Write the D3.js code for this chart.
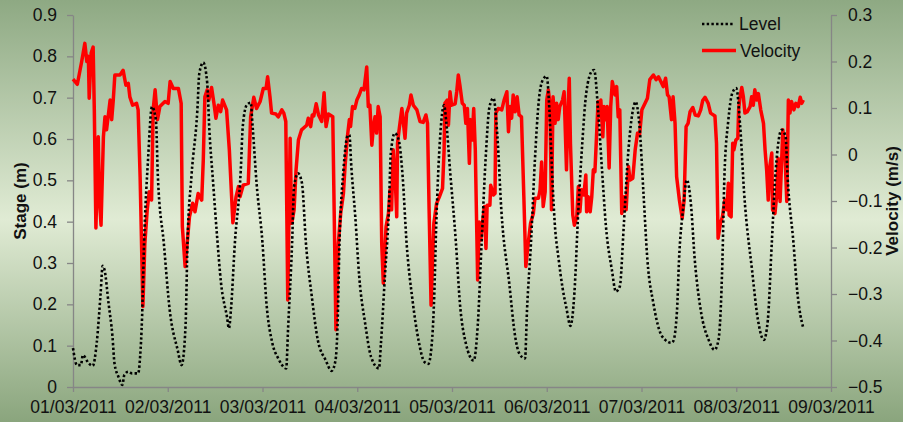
<!DOCTYPE html>
<html>
<head>
<meta charset="utf-8">
<style>
body { margin: 0; background: #fff; }
svg { display: block; font-family: "Liberation Sans", Arial, sans-serif; }
.axis path, .axis line { stroke: #868686; stroke-width: 1.3px; }
.axis text { fill: #111; font-size: 17.5px; }
.level { fill: none; stroke: #000; stroke-width: 2.6px; stroke-dasharray: 2.4, 2.3; }
.velocity { fill: none; stroke: #ff0000; stroke-width: 3.5px; stroke-linejoin: round; }
.title { font-weight: bold; font-size: 17px; fill: #111; }
.legend text { font-size: 17.5px; fill: #111; }
</style>
</head>
<body>
<script src="https://d3js.org/d3.v7.min.js"></script>
<script>

// x tick labels (dd/mm/yyyy)
var dateTicks = ["01/03/2011", "02/03/2011", "03/03/2011", "04/03/2011", "05/03/2011",
                 "06/03/2011", "07/03/2011", "08/03/2011", "09/03/2011"]
var stageTicks = [0, 0.1, 0.2, 0.3, 0.4, 0.5, 0.6, 0.7, 0.8, 0.9]
var velocityTicks = [-0.5, -0.4, -0.3, -0.2, -0.1, 0, 0.1, 0.2, 0.3]

// [hours after 01/03/2011 00:00, stage m]
var levelData = [
	[0,0.094],[1,0.053],[2,0.053],[2.5,0.077],[4,0.057],[5,0.051],[6,0.106],[7,0.227],[7.5,0.293],[8,0.283],
	[9,0.203],[10,0.122],[10.5,0.058],[11.5,0.025],[12.5,0.005],[13,0.029],[14,0.037],[15,0.033],[16.5,0.033],
	[17,0.073],[17.5,0.170],[18,0.348],[19,0.549],[20,0.678],[21,0.646],[21.5,0.509],[23,0.348],[24.5,0.186],
	[26.5,0.090],[27.5,0.053],[28.5,0.146],[29,0.348],[30,0.509],[31.5,0.670],[32,0.759],[33,0.785],[34,0.735],
	[34.5,0.63],[35.5,0.493],[36.5,0.364],[37.5,0.251],[39,0.170],[39.5,0.142],[40,0.186],[41,0.348],[42.5,0.525],
	[43,0.63],[44,0.682],[45,0.688],[45.5,0.63],[46.5,0.493],[48,0.348],[49,0.203],[50.5,0.106],[52,0.069],
	[54,0.045],[54.5,0.146],[55.5,0.348],[56,0.485],[57,0.517],[58,0.493],[59,0.348],[60.5,0.218],[62,0.114],
	[64,0.065],[65.5,0.039],[66.5,0.065],[67,0.146],[67.5,0.348],[68.5,0.525],[69.5,0.606],[70,0.61],[70.5,0.533],
	[71.5,0.412],[72.5,0.267],[74,0.154],[75.5,0.073],[77.5,0.045],[78,0.106],[79,0.267],[80,0.428],[80.5,0.565],
	[81.5,0.614],[82.5,0.598],[83.5,0.509],[84.5,0.348],[86,0.21],[87.5,0.114],[89,0.061],[90,0.056],[91,0.12],
	[91.5,0.22],[92,0.39],[93,0.606],[94,0.682],[94.5,0.646],[95.5,0.525],[97,0.348],[98,0.203],[99.5,0.106],
	[101.5,0.064],[102.5,0.146],[103.5,0.348],[104.5,0.549],[105.5,0.678],[106.5,0.699],[107.5,0.606],[108.5,0.428],
	[110.5,0.251],[112,0.122],[113,0.082],[114.5,0.069],[115,0.186],[116,0.348],[117,0.549],[118,0.694],[119,0.743],
	[120,0.752],[120.5,0.70],[121,0.60],[121.5,0.49],[122,0.40],[123,0.31],[124,0.24],[125,0.19],[126,0.148],
	[127,0.227],[128,0.428],[129,0.59],[130,0.711],[131.5,0.765],[132,0.767],[133,0.670],[134,0.525],[135,0.388],
	[136.5,0.283],[137.5,0.231],[138.5,0.243],[139.5,0.388],[140.5,0.549],[142,0.678],[142.5,0.690],[143.5,0.63],
	[144.5,0.469],[145.5,0.307],[147,0.203],[148.5,0.138],[150,0.114],[151.5,0.107],[152,0.110],[153,0.186],
	[153.5,0.307],[154.5,0.428],[155.5,0.501],[156.5,0.444],[157.5,0.307],[159,0.186],[161,0.114],[162.5,0.090],
	[163.5,0.114],[164.5,0.307],[165,0.509],[166,0.646],[167,0.711],[168,0.723],[169,0.63],[170,0.469],[172,0.283],
	[173.5,0.162],[175,0.114],[176,0.162],[177,0.348],[178,0.525],[179.5,0.622],[180.5,0.606],[181,0.509],
	[182.5,0.348],[183.5,0.227],[185,0.142]
]

// [hours after 01/03/2011 00:00, velocity m/s]
var velocityData = [
	[0,0.162],[1.1,0.151],[2.2,0.200],[3.0,0.239],[3.5,0.200],[3.9,0.211],[4.1,0.121],[4.6,0.218],[5.1,0.231],
	[5.4,0.096],[5.8,-0.158],[6.4,0.038],[6.7,-0.098],[7.1,-0.152],[7.7,0.038],[8.1,0.081],[8.5,0.053],[9.4,0.117],
	[9.8,0.075],[10.2,0.117],[10.6,0.171],[11.9,0.171],[12.7,0.181],[13.4,0.149],[14.0,0.153],[14.4,0.124],
	[15.1,0.106],[16.1,0.110],[16.5,0.096],[17.0,-0.048],[17.7,-0.327],[18.2,-0.191],[18.8,-0.119],[19.3,-0.080],
	[19.9,-0.098],[20.3,0.096],[20.8,0.139],[21.4,0.075],[22.0,0.103],[23.3,0.114],[24.1,0.110],[24.6,0.157],
	[25.4,0.142],[26.7,0.142],[27.4,0.110],[27.7,-0.155],[28.4,-0.241],[29.5,-0.134],[30.3,-0.105],[30.9,-0.123],
	[31.7,-0.084],[32.6,-0.098],[33.0,-0.012],[33.4,0.124],[34.0,0.139],[34.4,0.117],[35.1,0.144],[35.7,0.110],
	[36.2,0.078],[36.8,0.106],[37.4,0.092],[37.9,0.117],[38.9,0.096],[39.6,0.010],[40.5,-0.147],[41.3,-0.091],
	[41.9,-0.069],[42.3,-0.091],[43.1,-0.066],[44.4,-0.062],[45.0,0.081],[45.8,0.123],[46.5,0.099],[47.4,0.114],
	[48.2,0.142],[48.9,0.142],[49.3,0.167],[49.9,0.124],[50.3,0.089],[51.4,0.087],[52.0,0.081],[52.9,0.096],
	[53.4,0.089],[53.9,0.071],[54.4,-0.313],[55.0,0.035],[55.4,-0.148],[56.0,-0.119],[56.5,-0.033],[57.1,0.031],
	[57.9,0.053],[59.2,0.063],[59.6,0.078],[60.2,0.06],[60.6,0.085],[61.0,0.083],[61.6,0.109],[62.2,0.085],
	[63.0,0.071],[63.6,0.133],[64.1,0.060],[64.7,0.087],[65.8,0.081],[66.6,-0.377],[67.2,-0.191],[67.8,-0.127],
	[68.5,-0.084],[68.9,-0.026],[69.5,0.038],[70.0,0.075],[70.3,0.060],[70.8,0.103],[71.4,0.099],[71.9,0.117],
	[72.5,0.128],[73.1,0.142],[73.7,0.139],[74.4,0.188],[74.8,0.103],[75.2,0.106],[75.7,0.020],[76.1,0.060],
	[76.5,0.081],[76.9,0.046],[77.3,0.103],[77.8,0.081],[78.2,-0.191],[78.6,-0.277],[79.3,-0.155],[79.9,-0.127],
	[80.3,-0.076],[80.7,-0.119],[81.1,0.010],[81.6,-0.048],[82.0,-0.134],[82.2,0.024],[82.6,0.053],[83.3,0.099],
	[83.7,0.067],[84.1,0.035],[84.5,0.089],[85.2,0.106],[85.6,0.128],[86.2,0.106],[87.1,0.096],[87.9,0.071],
	[88.7,0.069],[89.4,0.085],[89.8,0.067],[90.2,-0.119],[90.7,-0.324],[91.4,-0.148],[92.1,-0.105],[92.8,-0.091],
	[93.6,-0.073],[94.0,0.010],[94.2,0.110],[94.8,0.117],[95.1,0.063],[95.5,0.135],[95.9,0.106],[96.8,0.109],
	[97.2,0.135],[97.6,0.171],[98.0,0.149],[98.6,0.110],[99.1,0.106],[99.5,0.067],[99.9,0.099],[100.4,-0.019],
	[100.7,0.075],[101.1,0.031],[101.5,0.099],[101.9,0.010],[102.5,-0.270],[102.9,-0.145],[103.3,-0.184],
	[103.8,-0.141],[104.2,-0.112],[104.6,-0.202],[104.9,-0.109],[105.6,-0.109],[105.8,-0.066],[106.5,-0.087],
	[106.9,-0.084],[107.1,0.089],[107.7,0.099],[108.6,0.096],[109.2,0.117],[109.9,0.135],[110.3,0.049],[110.7,0.103],
	[111.1,0.078],[111.5,0.128],[112.0,0.092],[112.5,0.124],[113.0,0.085],[113.6,0.081],[114.2,-0.091],[114.7,-0.241],
	[115.3,-0.191],[115.9,-0.148],[116.6,-0.127],[117.0,-0.094],[117.9,-0.094],[118.3,-0.076],[118.7,-0.016],
	[119.1,-0.112],[119.6,-0.080],[120.0,0.117],[120.4,0.139],[120.8,0.110],[121.2,-0.119],[121.6,0.124],[122.1,0.067],
	[122.5,0.110],[122.9,0.075],[123.3,0.103],[124.0,0.117],[124.4,0.135],[125.0,-0.033],[125.4,0.103],[125.7,0.164],
	[126.0,0.024],[126.6,-0.130],[127.0,-0.152],[127.6,-0.134],[128.0,-0.069],[128.4,-0.123],[128.8,-0.076],
	[129.4,-0.087],[129.9,-0.044],[130.1,-0.123],[130.5,-0.091],[131.0,-0.123],[131.4,-0.091],[131.8,-0.033],
	[132.2,-0.037],[132.6,0.038],[133.0,0.114],[133.5,0.081],[133.7,0.117],[134.2,0.038],[134.5,0.103],[135.0,0.075],
	[135.3,0.103],[135.8,-0.029],[136.2,0.103],[136.6,0.157],[137.3,0.128],[137.7,0.146],[138.1,0.081],[138.5,0.096],
	[139.0,-0.127],[139.6,-0.091],[140.1,-0.119],[140.7,-0.026],[141.1,-0.055],[141.8,-0.051],[142.4,0.010],
	[143.0,0.046],[143.5,0.042],[144.1,0.096],[144.9,0.110],[145.5,0.121],[146.1,0.161],[147.0,0.171],[147.7,0.161],
	[148.3,0.167],[148.9,0.157],[149.5,0.146],[150.1,0.164],[150.6,0.128],[151.0,0.124],[151.6,0.075],[152.0,0.124],
	[152.5,0.067],[152.9,-0.048],[153.6,-0.098],[154.3,-0.137],[154.8,-0.098],[155.3,0.060],[155.8,0.067],
	[156.3,0.092],[157.0,0.101],[157.6,0.085],[158.4,0.083],[159.0,0.096],[159.5,0.116],[160.1,0.123],[160.9,0.110],
	[161.5,0.089],[162.6,0.083],[163.0,0.024],[163.4,-0.180],[164.0,-0.148],[164.5,-0.134],[165.1,-0.098],
	[165.6,-0.119],[166.0,-0.062],[166.2,-0.130],[166.7,-0.134],[167.1,0.024],[167.4,0.010],[167.9,0.031],
	[168.4,0.035],[168.6,0.096],[168.9,0.121],[169.4,0.144],[169.8,0.124],[170.2,0.089],[170.8,0.092],[171.5,0.103],
	[171.9,0.124],[172.3,0.106],[172.7,0.139],[173.2,0.117],[173.6,0.131],[174.2,0.096],[174.9,0.067],[175.3,0.010],
	[175.7,-0.033],[176.1,-0.098],[176.5,-0.026],[177.0,0.003],[177.2,-0.119],[177.8,-0.127],[178.2,-0.091],
	[178.6,-0.008],[179.1,-0.101],[179.8,0.053],[180.3,0.010],[180.8,-0.101],[181.2,0.117],[181.6,0.089],
	[182.0,0.114],[182.6,0.096],[183.1,0.110],[183.7,0.103],[184.2,0.123],[184.6,0.110],[185.0,0.117]
]

var width = 903
var height = 422
var plotLeft = 73, plotRight = 831, plotTop = 15, plotBottom = 387

var parseDate = d3.utcParse("%d/%m/%Y")
var formatDate = d3.utcFormat("%d/%m/%Y")
var tickDates = dateTicks.map(parseDate)
var startTime = tickDates[0].getTime()
var hourToDate = function(h) { return new Date(startTime + h * 3600000) }

var svg = d3.select("body").append("svg")
            .attr("width", width)
            .attr("height", height)

var defs = svg.append("defs")
var grad = defs.append("linearGradient")
               .attr("id", "bg")
               .attr("x1", 0).attr("y1", 0).attr("x2", 0).attr("y2", 1)
grad.append("stop").attr("offset", "0%").attr("stop-color", "#8ea983")
grad.append("stop").attr("offset", "52%").attr("stop-color", "#e0ebd4")
grad.append("stop").attr("offset", "100%").attr("stop-color", "#8aa57d")

svg.append("rect")
   .attr("width", width)
   .attr("height", height)
   .attr("fill", "url(#bg)")

var x = d3.scaleUtc()
          .domain([tickDates[0], tickDates[tickDates.length - 1]])
          .range([plotLeft, plotRight])
var yStage = d3.scaleLinear().domain([0, 0.9]).range([plotBottom, plotTop])
var yVel = d3.scaleLinear().domain([-0.5, 0.3]).range([plotBottom, plotTop])

var fmt = function(d) { return d === 0 ? "0" : d3.format(".1f")(d) }

svg.append("g").attr("class", "axis")
   .attr("transform", "translate(" + plotLeft + ",0)")
   .call(d3.axisLeft(yStage).tickValues(stageTicks).tickFormat(fmt).tickSize(6).tickSizeOuter(0).tickPadding(10))

svg.append("g").attr("class", "axis")
   .attr("transform", "translate(" + plotRight + ",0)")
   .call(d3.axisRight(yVel).tickValues(velocityTicks).tickFormat(fmt).tickSize(6).tickSizeOuter(0).tickPadding(11))

svg.append("g").attr("class", "axis")
   .attr("transform", "translate(0," + plotBottom + ")")
   .call(d3.axisBottom(x).tickValues(tickDates).tickFormat(formatDate).tickSize(5).tickSizeOuter(0).tickPadding(9))

svg.append("text").attr("class", "title")
   .attr("text-anchor", "middle")
   .attr("transform", "translate(26,201) rotate(-90)")
   .text("Stage (m)")

svg.append("text").attr("class", "title")
   .attr("text-anchor", "middle")
   .attr("transform", "translate(898,201) rotate(-90)")
   .text("Velocity (m/s)")

var levelLine = d3.line()
                  .x(function(d) { return x(hourToDate(d[0])) })
                  .y(function(d) { return yStage(d[1]) })
                  .curve(d3.curveMonotoneX)

var velLine = d3.line()
                .x(function(d) { return x(hourToDate(d[0])) })
                .y(function(d) { return yVel(d[1]) })

svg.append("path").attr("class", "velocity").attr("d", velLine(velocityData))
svg.append("path").attr("class", "level").attr("d", levelLine(levelData))

// legend
var legend = svg.append("g").attr("class", "legend")
legend.append("line").attr("class", "level")
      .attr("x1", 702).attr("x2", 733).attr("y1", 24).attr("y2", 24)
legend.append("text").attr("x", 739).attr("y", 24).attr("dy", "0.35em").text("Level")
legend.append("line").attr("class", "velocity")
      .attr("x1", 702).attr("x2", 736).attr("y1", 50.5).attr("y2", 50.5)
legend.append("text").attr("x", 740).attr("y", 50.5).attr("dy", "0.35em").text("Velocity")

</script>
</body>
</html>
